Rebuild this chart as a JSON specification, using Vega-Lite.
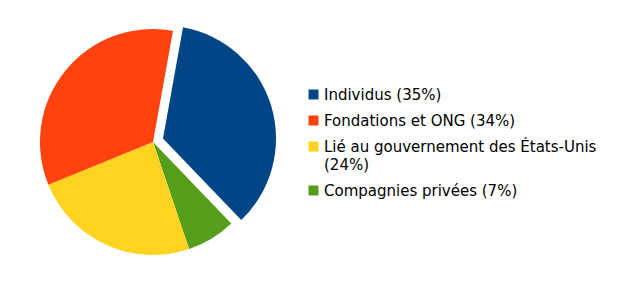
{
  "$schema": "https://vega.github.io/schema/vega-lite/v6.json",
  "width": 306,
  "height": 284,
  "padding": 0,
  "background": "white",
  "config": {"view": {"stroke": null}, "style": {"guide-label": {"lineHeight": 18}}},
  "data": {"values": [
    {"cat": "Individus (35%)", "v": 35, "o": 1},
    {"cat": "Compagnies privées (7%)", "v": 7, "o": 2},
    {"cat": "Lié au gouvernement des États-Unis (24%)", "v": 24, "o": 3},
    {"cat": "Fondations et ONG (34%)", "v": 34, "o": 4}
  ]},
  "encoding": {
    "theta": {"field": "v", "type": "quantitative", "stack": true, "scale": {"range": [0.178, 6.461]}},
    "order": {"field": "o", "type": "quantitative"},
    "color": {
      "field": "cat", "type": "nominal",
      "scale": {
        "domain": ["Individus (35%)", "Fondations et ONG (34%)", "Lié au gouvernement des États-Unis (24%)", "Compagnies privées (7%)"],
        "range": ["#004586", "#ff420e", "#ffd320", "#579d1c"]
      },
      "legend": {
        "title": null, "orient": "none", "legendX": 306, "legendY": 87,
        "symbolType": "square", "symbolSize": 100, "symbolStrokeWidth": 0, "symbolOpacity": 1,
        "labelFont": "DejaVu Sans", "labelFontSize": 15, "labelColor": "#000000",
        "labelOffset": 3, "rowPadding": 10, "labelLimit": 400, "padding": 0,
        "labelExpr": "datum.label == 'Lié au gouvernement des États-Unis (24%)' ? ['Lié au gouvernement des États-Unis', '(24%)'] : datum.label"
      }
    }
  },
  "layer": [
    {
      "mark": {"type": "arc", "outerRadius": 113, "strokeWidth": 0},
      "encoding": {"fillOpacity": {"condition": {"test": "datum.o == 1", "value": 0}, "value": 1}}
    },
    {
      "mark": {"type": "arc", "outerRadius": 113, "strokeWidth": 0, "xOffset": 10, "yOffset": -3.5},
      "encoding": {"fillOpacity": {"condition": {"test": "datum.o == 1", "value": 1}, "value": 0}}
    }
  ]
}
